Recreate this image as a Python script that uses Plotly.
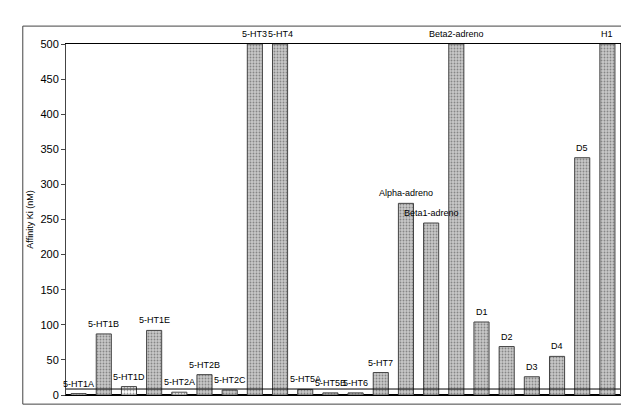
import plotly.graph_objects as go

labels = ["5-HT1A","5-HT1B","5-HT1D","5-HT1E","5-HT2A","5-HT2B","5-HT2C","5-HT3","5-HT4",
          "5-HT5A","5-HT5B","5-HT6","5-HT7","Alpha-adreno","Beta1-adreno","Beta2-adreno",
          "D1","D2","D3","D4","D5","H1"]
values = [2, 87, 12, 92, 4, 29, 7, 500, 500, 8, 3, 3, 32, 273, 245, 500, 104, 69, 26, 55, 338, 500]
threshold = 8.5

colors = ["#ffffff" if i in (0, 2, 4) else "#c8c8c8" for i in range(len(values))]
fig = go.Figure(go.Bar(
    x=list(range(len(values))), y=values,
    marker=dict(color=colors, line=dict(color="#444", width=1),
                pattern=dict(shape=".", fgcolor="#999", size=3, solidity=0.3)),
    width=0.6))
for i, (lab, v) in enumerate(zip(labels, values)):
    fig.add_annotation(x=i, y=v, text=lab, showarrow=False, yanchor="bottom", yshift=3,
                       font=dict(size=9, color="black"))
fig.add_shape(type="line", xref="paper", x0=0, x1=1, y0=threshold, y1=threshold,
              line=dict(color="black", width=1))
fig.add_shape(type="rect", xref="paper", yref="paper", x0=-0.078, x1=1.014, y0=-0.026, y1=1.051,
              line=dict(color="#444", width=1))
fig.update_layout(
    width=629, height=420, margin=dict(l=58, r=17, t=36, b=33),
    plot_bgcolor="white", paper_bgcolor="white", showlegend=False,
    font=dict(family="Liberation Sans, Arial", size=11, color="black"),
    xaxis=dict(range=[-0.5, len(values)-0.5], showticklabels=False, ticks="",
               showline=True, linecolor="black", mirror=True, showgrid=False),
    yaxis=dict(range=[0, 500], dtick=50, ticks="outside", ticklen=4, showline=True,
               linecolor="#444", mirror=True, showgrid=False, zeroline=True, zerolinecolor="black",
               title=dict(text="Affinity Ki (nM)", font=dict(size=9), standoff=5)))
fig.write_html("out.html")
